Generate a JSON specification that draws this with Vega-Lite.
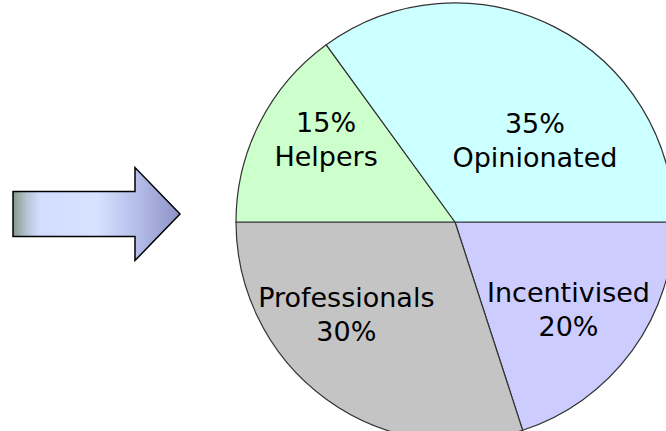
{
  "$schema": "https://vega.github.io/schema/vega-lite/v6.json",
  "padding": 0,
  "spacing": 0,
  "config": {"view": {"stroke": null}, "concat": {"spacing": 0}},
  "hconcat": [
    {
      "width": 193,
      "height": 428,
      "data": {"values": [{"item": "arrow"}]},
      "mark": {
        "type": "point",
        "shape": "M -1 -0.27 L 0.461 -0.27 L 0.461 -0.557 L 1 0 L 0.461 0.557 L 0.461 0.27 L -1 0.27 Z",
        "size": 27889,
        "filled": true,
        "opacity": 1,
        "fill": {
          "gradient": "linear",
          "x1": 0, "y1": 0, "x2": 1, "y2": 0,
          "stops": [
            {"offset": 0, "color": "#86998a"},
            {"offset": 0.08, "color": "#b4c4d0"},
            {"offset": 0.16, "color": "#d2ddff"},
            {"offset": 0.5, "color": "#d6e2ff"},
            {"offset": 0.75, "color": "#b4bce8"},
            {"offset": 1, "color": "#8c92c6"}
          ]
        },
        "stroke": "#000000",
        "strokeWidth": 1.5,
        "strokeJoin": "miter"
      },
      "encoding": {}
    },
    {
      "width": 524,
      "height": 444,
      "data": {
        "values": [
          {"segment": "Incentivised", "value": 20, "rank": 1, "label": "Incentivised\n20%"},
          {"segment": "Professionals", "value": 30, "rank": 2, "label": "Professionals\n30%"},
          {"segment": "Helpers", "value": 15, "rank": 3, "label": "15%\nHelpers"},
          {"segment": "Opinionated", "value": 35, "rank": 4, "label": "35%\nOpinionated"}
        ]
      },
      "layer": [
        {
          "mark": {"type": "arc", "outerRadius": 219, "stroke": "#333333", "strokeWidth": 1.2},
          "encoding": {
            "theta": {"field": "value", "type": "quantitative", "stack": true, "scale": {"range": [1.5708, 7.854]}},
            "order": {"field": "rank", "type": "quantitative"},
            "color": {
              "field": "segment",
              "type": "nominal",
              "scale": {
                "domain": ["Incentivised", "Professionals", "Helpers", "Opinionated"],
                "range": ["#ccccff", "#c4c4c4", "#ccffcc", "#ccffff"]
              },
              "legend": null
            }
          }
        },
        {
          "mark": {
            "type": "text",
            "font": "DejaVu Sans",
            "fontSize": 27,
            "lineBreak": "\n",
            "lineHeight": 34,
            "align": "center",
            "baseline": "middle",
            "dy": -17,
            "radius": 144,
            "color": "#000000"
          },
          "encoding": {
            "theta": {"field": "value", "type": "quantitative", "stack": true, "scale": {"range": [1.5289, 8.5801]}},
            "order": {"field": "rank", "type": "quantitative"},
            "text": {"condition": {"test": "datum.rank <= 2", "field": "label"}, "value": ""}
          }
        },
        {
          "mark": {
            "type": "text",
            "font": "DejaVu Sans",
            "fontSize": 27,
            "lineBreak": "\n",
            "lineHeight": 34,
            "align": "center",
            "baseline": "middle",
            "dy": -17,
            "color": "#000000"
          },
          "encoding": {
            "theta": {"field": "value", "type": "quantitative", "stack": true, "scale": {"range": [1.1362, 8.327]}},
            "radius": {"field": "value", "type": "quantitative", "scale": {"type": "linear", "zero": false, "domain": [15, 35], "range": [152, 113]}},
            "order": {"field": "rank", "type": "quantitative"},
            "text": {"condition": {"test": "datum.rank >= 3", "field": "label"}, "value": ""}
          }
        }
      ],
      "resolve": {"scale": {"theta": "independent", "radius": "independent"}}
    }
  ]
}
